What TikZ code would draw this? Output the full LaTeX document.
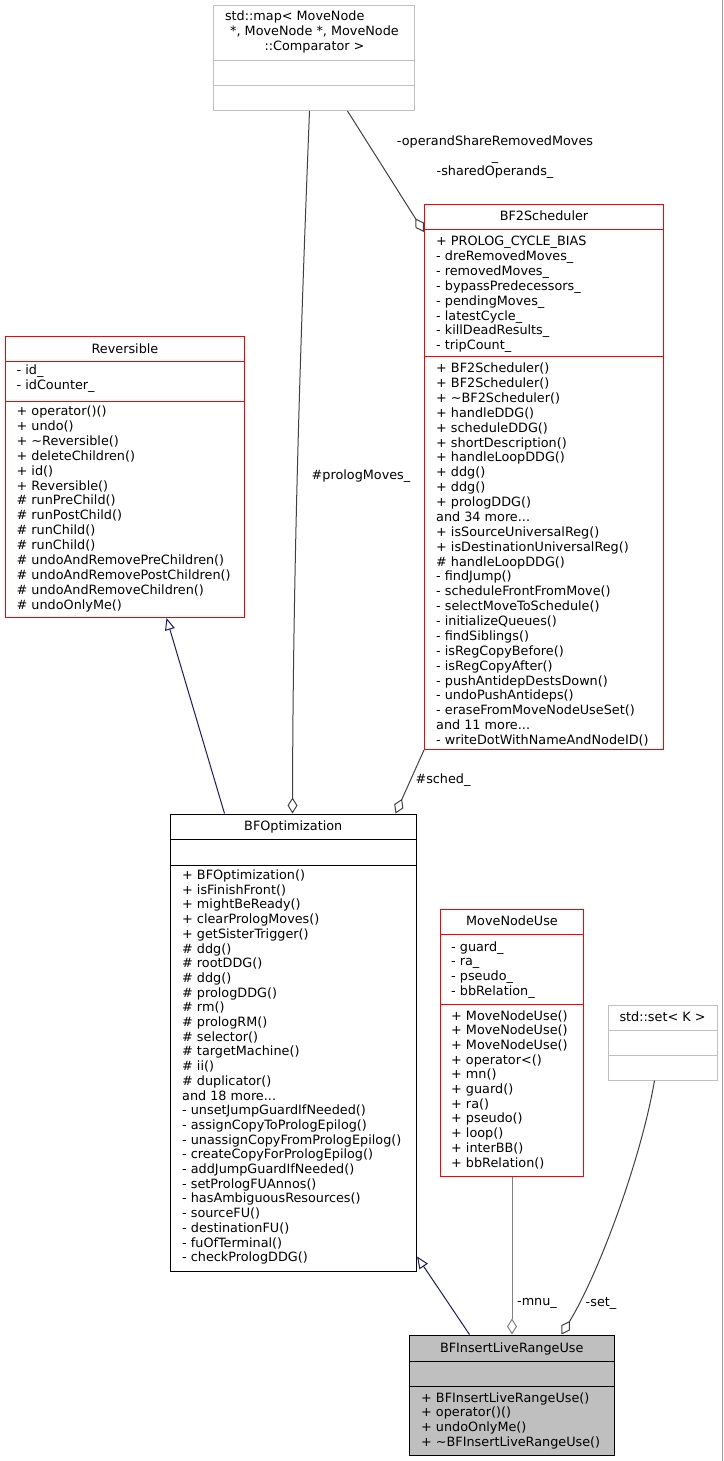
\documentclass[tikz,border=0pt]{standalone}
\usepackage{fontspec}
\setmainfont{DejaVu Sans}
\usetikzlibrary{arrows.meta}
\definecolor{midnight}{HTML}{191970}
\definecolor{edgegrey}{HTML}{404040}
\definecolor{lightedge}{HTML}{808080}
\definecolor{boxgrey}{HTML}{BFBFBF}
\definecolor{umlred}{HTML}{FF0000}
\newcommand{\umlfont}{\fontsize{12.8}{14.7}\selectfont}
\newcommand{\widefont}{\fontsize{12.8}{14.88}\selectfont}

\begin{document}
\begin{tikzpicture}[x=1pt,y=-1pt]
  \tikzstyle{every node}+=[inner sep=0pt, font=\umlfont]
  \tikzstyle{redbox}=[draw=umlred, fill=white, line width=1pt]
  \tikzstyle{blackbox}=[draw=black, fill=white, line width=1pt]
  \tikzstyle{greybox}=[draw=boxgrey, fill=white, line width=1pt]
  \tikzstyle{mainbox}=[draw=black, fill=boxgrey, line width=1pt]
  \tikzstyle{title}=[text height=9.5pt, text depth=2.5pt]
  \tikzstyle{members}=[anchor=north west, align=left]
  \tikzstyle{inherit}=[draw=midnight, line width=1pt, -{Triangle[open, length=12pt, width=10pt]}]
  \tikzstyle{uses}=[draw=edgegrey, line width=1pt, -{Diamond[open, length=16pt, width=10pt]}]
  \useasboundingbox (0,0) rectangle (723,1461);
  \draw [boxgrey!80!black, line width=1pt] (722,0) -- (722,1461);

  \node [greybox, minimum width=200.5pt, minimum height=104.5pt] (map) at (313.75,58.25) {};
  \draw [boxgrey, line width=1pt] (map.west |- 0,60.5) -- (map.east |- 0,60.5);
  \draw [boxgrey, line width=1pt] (map.west |- 0,85.5) -- (map.east |- 0,85.5);
  \node [align=center] (map-title) at (314.5,32) {\makebox[179pt][l]{std::map< MoveNode}\\ *, MoveNode *, MoveNode\\::Comparator >};

  \node [redbox, minimum width=239pt, minimum height=545pt] (bf2) at (544,477) {};
  \draw [umlred, line width=1pt] (bf2.west |- 0,229.5) -- (bf2.east |- 0,229.5);
  \draw [umlred, line width=1pt] (bf2.west |- 0,356.5) -- (bf2.east |- 0,356.5);
  \node [title] (bf2-title) at (544,217) {BF2Scheduler};
  \node [members, font=\widefont] (bf2-attr) at (436,235) {\strut + PROLOG\_CYCLE\_BIAS\\- dreRemovedMoves\_\\- removedMoves\_\\- bypassPredecessors\_\\- pendingMoves\_\\- latestCycle\_\\- killDeadResults\_\\- tripCount\_};
  \node [members, font=\widefont] (bf2-ops) at (436,362) {\strut + BF2Scheduler()\\+ BF2Scheduler()\\+ \textasciitilde BF2Scheduler()\\+ handleDDG()\\+ scheduleDDG()\\+ shortDescription()\\+ handleLoopDDG()\\+ ddg()\\+ ddg()\\+ prologDDG()\\and 34 more...\\+ isSourceUniversalReg()\\+ isDestinationUniversalReg()\\\# handleLoopDDG()\\- findJump()\\- scheduleFrontFromMove()\\- selectMoveToSchedule()\\- initializeQueues()\\- findSiblings()\\- isRegCopyBefore()\\- isRegCopyAfter()\\- pushAntidepDestsDown()\\- undoPushAntideps()\\- eraseFromMoveNodeUseSet()\\and 11 more...\\- writeDotWithNameAndNodeID()};

  \node [redbox, minimum width=239pt, minimum height=281pt] (rev) at (125,477) {};
  \draw [umlred, line width=1pt] (rev.west |- 0,361.5) -- (rev.east |- 0,361.5);
  \draw [umlred, line width=1pt] (rev.west |- 0,401.5) -- (rev.east |- 0,401.5);
  \node [title] (rev-title) at (125,350) {Reversible};
  \node [members, font=\widefont] (rev-attr) at (16.5,364) {\strut - id\_\\- idCounter\_};
  \node [members, font=\widefont] (rev-ops) at (16.5,405) {\strut + operator()()\\+ undo()\\+ \textasciitilde Reversible()\\+ deleteChildren()\\+ id()\\+ Reversible()\\\# runPreChild()\\\# runPostChild()\\\# runChild()\\\# runChild()\\\# undoAndRemovePreChildren()\\\# undoAndRemovePostChildren()\\\# undoAndRemoveChildren()\\\# undoOnlyMe()};

  \node [blackbox, minimum width=246.5pt, minimum height=457pt] (bfopt) at (293.25,1042.5) {};
  \draw [black, line width=1pt] (bfopt.west |- 0,839) -- (bfopt.east |- 0,839);
  \draw [black, line width=1pt] (bfopt.west |- 0,865) -- (bfopt.east |- 0,865);
  \node [title] (bfopt-title) at (293.25,827) {BFOptimization};
  \node [members] (bfopt-ops) at (182,869) {\strut + BFOptimization()\\+ isFinishFront()\\+ mightBeReady()\\+ clearPrologMoves()\\+ getSisterTrigger()\\\# ddg()\\\# rootDDG()\\\# ddg()\\\# prologDDG()\\\# rm()\\\# prologRM()\\\# selector()\\\# targetMachine()\\\# ii()\\\# duplicator()\\and 18 more...\\- unsetJumpGuardIfNeeded()\\- assignCopyToPrologEpilog()\\- unassignCopyFromPrologEpilog()\\- createCopyForPrologEpilog()\\- addJumpGuardIfNeeded()\\- setPrologFUAnnos()\\- hasAmbiguousResources()\\- sourceFU()\\- destinationFU()\\- fuOfTerminal()\\- checkPrologDDG()};

  \node [redbox, minimum width=143pt, minimum height=266.5pt] (mnu) at (512,1042.75) {};
  \draw [umlred, line width=1pt] (mnu.west |- 0,934.5) -- (mnu.east |- 0,934.5);
  \draw [umlred, line width=1pt] (mnu.west |- 0,1004) -- (mnu.east |- 0,1004);
  \node [title] (mnu-title) at (512,922) {MoveNodeUse};
  \node [members] (mnu-attr) at (451,940.5) {\strut - guard\_\\- ra\_\\- pseudo\_\\- bbRelation\_};
  \node [members] (mnu-ops) at (451,1009.5) {\strut + MoveNodeUse()\\+ MoveNodeUse()\\+ MoveNodeUse()\\+ operator<()\\+ mn()\\+ guard()\\+ ra()\\+ pseudo()\\+ loop()\\+ interBB()\\+ bbRelation()};

  \node [greybox, minimum width=109pt, minimum height=75pt] (set) at (662.5,1042.5) {};
  \draw [boxgrey, line width=1pt] (set.west |- 0,1030) -- (set.east |- 0,1030);
  \draw [boxgrey, line width=1pt] (set.west |- 0,1055.5) -- (set.east |- 0,1055.5);
  \node [title] (set-title) at (662.5,1018) {std::set< K >};

  \node [mainbox, minimum width=205.5pt, minimum height=120.5pt] (ins) at (511.75,1395.25) {};
  \draw [black, line width=1pt] (ins.west |- 0,1361) -- (ins.east |- 0,1361);
  \draw [black, line width=1pt] (ins.west |- 0,1386) -- (ins.east |- 0,1386);
  \node [title] (ins-title) at (511.75,1349) {BFInsertLiveRangeUse};
  \node [members] (ins-ops) at (421,1391.5) {\strut + BFInsertLiveRangeUse()\\+ operator()()\\+ undoOnlyMe()\\+ \textasciitilde BFInsertLiveRangeUse()};

  \draw [inherit] ([xshift=55pt]bfopt.north west) -- ([xshift=161.5pt]rev.south west);
  \draw [inherit] ([xshift=61pt]ins.north west) -- ([yshift=15pt]bfopt.south east);
  \draw [uses] ([xshift=96.5pt]map.south west) .. controls (302,300) and (293,550) .. ([xshift=123pt]bfopt.north west);
  \node (prolog-label) at (361,476) {\#prologMoves\_};
  \draw [uses] ([xshift=134.5pt]map.south west) -- ([yshift=-28pt]bf2.north west);
  \node [align=center] (share-label) at (495,157) {-operandShareRemovedMoves\\\_\\-sharedOperands\_};
  \draw [uses] (bf2.south west) -- ([xshift=226pt]bfopt.north west);
  \node (sched-label) at (443,780) {\#sched\_};
  \draw [uses, draw=lightedge] (mnu.south) -- (mnu.south |- ins.north);
  \node (mnu-label) at (537,1303) {-mnu\_};
  \draw [uses] ([xshift=47pt]set.south west) .. controls (641,1160) and (598,1275) .. ([xshift=153pt]ins.north west);
  \node (set-label) at (601,1303) {-set\_};
\end{tikzpicture}
\end{document}
